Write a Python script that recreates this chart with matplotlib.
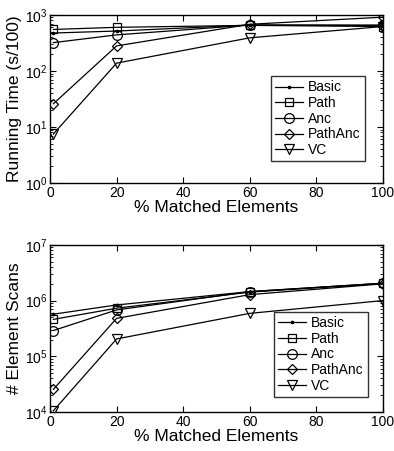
import matplotlib
matplotlib.use('Agg')
import matplotlib.pyplot as plt

plt.rcParams['font.family'] = ['Liberation Sans', 'DejaVu Sans']

x = [1, 20, 60, 100]

# running time (s/100)
time_basic = [475, 515, 660, 640]
time_path = [550, 600, 650, 620]
time_anc = [320, 440, 660, 660]
time_pathanc = [26, 280, 680, 910]
time_vc = [7.5, 138, 390, 620]

# element scans
scan_basic = [570000, 835000, 1450000, 2050000]
scan_path = [460000, 730000, 1420000, 2030000]
scan_anc = [290000, 680000, 1450000, 2050000]
scan_pathanc = [25500, 480000, 1280000, 2000000]
scan_vc = [10500, 205000, 590000, 1000000]

labels = ['Basic', 'Path', 'Anc', 'PathAnc', 'VC']
markers = ['.', 's', 'o', 'D', 'v']
sizes = [3.5, 5.5, 7, 5.5, 7.5]


def draw(ax, series, ylim, ylabel, legend_box):
	for vals, lab, m, s in zip(series, labels, markers, sizes):
		ax.plot(x, vals, color='black', lw=0.9, marker=m, markersize=s,
				markerfacecolor='none' if m != '.' else 'black',
				markeredgecolor='black', markeredgewidth=0.9, label=lab)
	ax.set_yscale('log')
	ax.set_xlim(0, 100)
	ax.set_ylim(*ylim)
	ax.set_xticks([0, 20, 40, 60, 80, 100])
	ax.tick_params(which='both', direction='in', top=True, right=True, labelsize=10, pad=2)
	ax.tick_params(which='major', length=4)
	ax.tick_params(which='minor', length=2)
	for sp in ax.spines.values():
		sp.set_linewidth(1.0)
	ax.set_xlabel('% Matched Elements', fontsize=12.5, labelpad=0)
	ax.set_ylabel(ylabel, fontsize=12.5, labelpad=2)
	leg = ax.legend(loc='lower left', bbox_to_anchor=legend_box, fontsize=10,
					frameon=True, fancybox=False, edgecolor='black',
					handlelength=2.0, borderpad=0.3, labelspacing=0.12,
					handletextpad=0.4, borderaxespad=0)
	leg.get_frame().set_linewidth(1.0)


fig = plt.figure(figsize=(3.94, 4.51), dpi=100)
ax1 = fig.add_axes([0.127, 0.594, 0.845, 0.373])
ax2 = fig.add_axes([0.127, 0.0865, 0.845, 0.3705])

draw(ax1, [time_basic, time_path, time_anc, time_pathanc, time_vc],
	 (1, 1000), 'Running Time (s/100)', (0.663, 0.13))
draw(ax2, [scan_basic, scan_path, scan_anc, scan_pathanc, scan_vc],
	 (1e4, 1e7), '# Element Scans', (0.672, 0.09))

fig.savefig('out.png', dpi=100)
